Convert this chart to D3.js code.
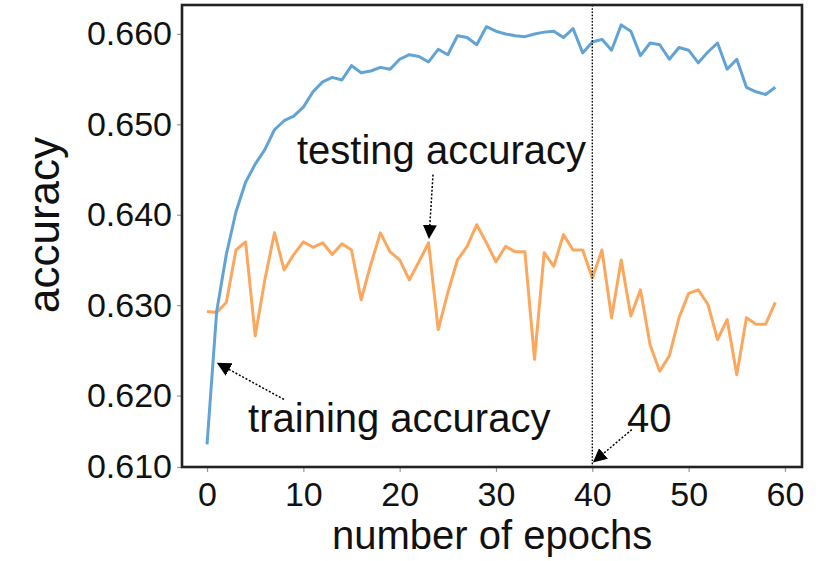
<!DOCTYPE html>
<html>
<head>
<meta charset="utf-8">
<script src="https://cdn.jsdelivr.net/npm/d3@7"></script>
<style>
  html, body { margin: 0; padding: 0; background: #fff; }
  svg { display: block; }
  text { font-family: "Liberation Sans", Arial, Helvetica, sans-serif; fill: #111; }
</style>
</head>
<body>
<svg id="chart" width="821" height="561"></svg>
<script>
// Accuracy per epoch (epochs 0..59)
const epochs = d3.range(60);

const trainingAccuracy = [
  0.6146, 0.6293, 0.6356, 0.6403, 0.6436, 0.6456, 0.6472, 0.6494, 0.6504, 0.6509,
  0.6519, 0.6536, 0.6547, 0.6552, 0.6549, 0.6565, 0.6557, 0.6559, 0.6563, 0.6561,
  0.6572, 0.6577, 0.6575, 0.6569, 0.6583, 0.6577, 0.6598, 0.6596, 0.6588, 0.6608,
  0.6603, 0.6600, 0.6598, 0.6597, 0.6600, 0.6602, 0.6603, 0.6596, 0.6606, 0.6579,
  0.6591, 0.6594, 0.6582, 0.6610, 0.6603, 0.6576, 0.6590, 0.6588, 0.6572, 0.6585,
  0.6582, 0.6568, 0.6580, 0.6590, 0.6561, 0.6572, 0.6541, 0.6536, 0.6533, 0.6541
];

const testingAccuracy = [
  0.6293, 0.6292, 0.6303, 0.6361, 0.6370, 0.6266, 0.6328, 0.6380, 0.6339, 0.6356,
  0.6370, 0.6364, 0.6369, 0.6356, 0.6368, 0.6361, 0.6306, 0.6345, 0.6380, 0.6359,
  0.6350, 0.6328, 0.6348, 0.6369, 0.6273, 0.6314, 0.6350, 0.6365, 0.6389, 0.6369,
  0.6348, 0.6365, 0.6359, 0.6359, 0.6240, 0.6358, 0.6343, 0.6378, 0.6361, 0.6361,
  0.6330, 0.6361, 0.6286, 0.6350, 0.6288, 0.6317, 0.6256, 0.6227, 0.6244, 0.6286,
  0.6313, 0.6317, 0.6301, 0.6262, 0.6284, 0.6223, 0.6286, 0.6279, 0.6279, 0.6303
];

// Axis ticks
const xTickValues = [0, 10, 20, 30, 40, 50, 60];
const yTickValues = [0.6121, 0.62, 0.63, 0.64, 0.65, 0.66];
const yTickLabels = ["0.610", "0.620", "0.630", "0.640", "0.650", "0.660"];

// Marked epoch
const markedEpoch = 40;

const svg = d3.select("#chart");
const frame = { left: 182, right: 802, top: 5, bottom: 467 };

const x = d3.scaleLinear().domain([-2.6, 61.77]).range([frame.left, frame.right]);
const y = d3.scaleLinear().domain([0.6121, 0.6632]).range([frame.bottom, frame.top]);

// arrow head marker
const defs = svg.append("defs");
defs.append("marker")
  .attr("id", "head")
  .attr("viewBox", "0 0 10 10")
  .attr("refX", 9).attr("refY", 5)
  .attr("markerWidth", 14).attr("markerHeight", 14)
  .attr("markerUnits", "userSpaceOnUse")
  .attr("orient", "auto")
  .append("path")
  .attr("d", "M0,0 L10,5 L0,10 Z")
  .attr("fill", "#000");

// lines
const line = (vals) => d3.line().x((d, i) => x(epochs[i])).y(d => y(d))(vals);

svg.append("path")
  .attr("d", line(testingAccuracy))
  .attr("fill", "none")
  .attr("stroke", "#fca75e")
  .attr("stroke-width", 3)
  .attr("stroke-linejoin", "round");

svg.append("path")
  .attr("d", line(trainingAccuracy))
  .attr("fill", "none")
  .attr("stroke", "#62a3d6")
  .attr("stroke-width", 3)
  .attr("stroke-linejoin", "round");

// vertical marker at epoch 40
svg.append("line")
  .attr("x1", x(markedEpoch)).attr("x2", x(markedEpoch))
  .attr("y1", frame.top).attr("y2", frame.bottom)
  .attr("stroke", "#000").attr("stroke-width", 1.4)
  .attr("stroke-dasharray", "1.6,1.6");

// axes
const yAxis = svg.append("g")
  .attr("transform", `translate(${frame.left},0)`)
  .call(d3.axisLeft(y).tickValues(yTickValues)
    .tickFormat((d, i) => yTickLabels[i]).tickSize(5).tickPadding(5));
const xAxis = svg.append("g")
  .attr("transform", `translate(0,${frame.bottom})`)
  .call(d3.axisBottom(x).tickValues(xTickValues).tickSize(5).tickPadding(10));

[yAxis, xAxis].forEach(g => {
  g.select(".domain").remove();
  g.selectAll(".tick line").attr("stroke", "#999").attr("stroke-width", 1.2);
  g.selectAll(".tick text")
    .attr("font-size", 34)
    .attr("fill", "#111");
});

// frame
svg.append("rect")
  .attr("x", frame.left).attr("y", frame.top)
  .attr("width", frame.right - frame.left)
  .attr("height", frame.bottom - frame.top)
  .attr("fill", "none")
  .attr("stroke", "#222")
  .attr("stroke-width", 2.6);

// axis titles
svg.append("text")
  .attr("transform", `translate(59,225) rotate(-90)`)
  .attr("text-anchor", "middle")
  .attr("font-size", 44)
  .text("accuracy");

svg.append("text")
  .attr("x", x(29.6)).attr("y", 549)
  .attr("text-anchor", "middle")
  .attr("font-size", 40)
  .text("number of epochs");

// annotations
function annotate(label, textPos, from, tip, size) {
  svg.append("line")
    .attr("x1", x(from[0])).attr("y1", y(from[1]))
    .attr("x2", x(tip[0])).attr("y2", y(tip[1]))
    .attr("stroke", "#000").attr("stroke-width", 1.5)
    .attr("stroke-dasharray", "2,1.8")
    .attr("marker-end", "url(#head)");
  svg.append("text")
    .attr("x", x(textPos[0])).attr("y", y(textPos[1]))
    .attr("font-size", size)
    .text(label);
}

annotate("testing accuracy", [9.34, 0.64565], [23.46, 0.64444], [23.05, 0.63747], 40);
annotate("training accuracy", [4.26, 0.61592], [7.99, 0.61957], [1.14, 0.62355], 40);
annotate("40", [43.6, 0.61602], [44.1, 0.61624], [40.17, 0.6127], 40);
</script>
</body>
</html>
